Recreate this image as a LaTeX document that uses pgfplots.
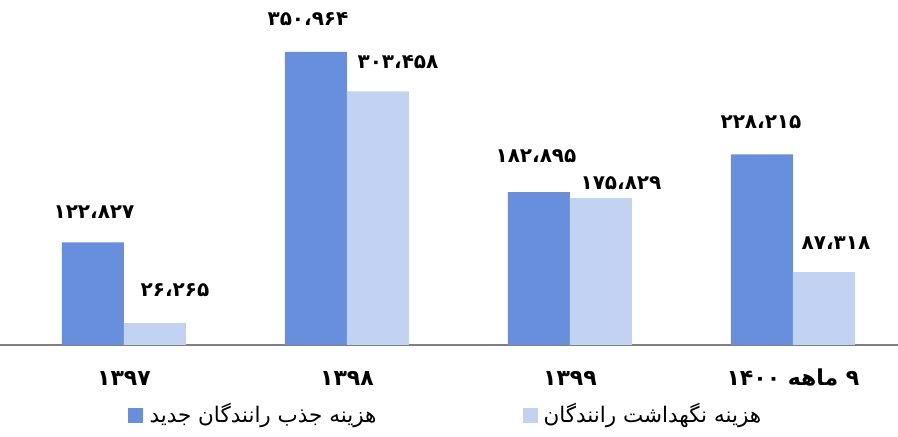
\documentclass[border=0pt]{standalone}
\usepackage{fontspec}
\usepackage{pgfplots}
\usepackage{pgfplotstable}
\pgfplotsset{compat=1.18}
\usetikzlibrary{calc}
\TeXXeTstate=1
\newfontfamily\arabicfont[Script=Arabic]{DejaVu Sans}
\definecolor{darkbar}{RGB}{104,143,222}
\definecolor{lightbar}{RGB}{194,210,243}
\definecolor{baseline}{RGB}{128,128,128}

% x = group, y = cost, dx/dy = label offset from bar top (pt), lab = label
\pgfplotstableread{
x y dx dy lab
0 122827 1 30 ۱۲۲،۸۲۷
1 350964 -8 33 ۳۵۰،۹۶۴
2 182895 -3 36 ۱۸۲،۸۹۵
3 228215 -1 32 ۲۲۸،۲۱۵
}\jazb
\pgfplotstableread{
x y dx dy lab
0 26265 20 33 ۲۶،۲۶۵
1 303458 20 29 ۳۰۳،۴۵۸
2 175829 20 15 ۱۷۵،۸۲۹
3 87318 12 29 ۸۷،۳۱۸
}\negahdasht

\begin{document}
\begin{tikzpicture}
\begin{axis}[name=ax, at={(0,0)}, anchor=south west,
  scale only axis, width=898pt, height=345pt,
  xmin=-0.556, xmax=3.471, ymin=0, ymax=413000,
  axis y line=none, axis x line=bottom,
  x axis line style={-, draw=baseline, line width=1.5pt},
  xtick={0,1,2,3}, major tick length=0pt,
  xticklabels={۱۳۹۷,۱۳۹۸,۱۳۹۹,{\beginR ۹ ماهه ۱۴۰۰\endR}},
  xticklabel style={font=\arabicfont\bfseries\fontsize{22}{26}\selectfont,
    anchor=center, yshift=-33pt},
  ybar=0pt, bar width=0.278, clip=false,
  nodes near coords, point meta=explicit symbolic,
  visualization depends on={\thisrow{dx} \as \lblx},
  visualization depends on={\thisrow{dy} \as \lbly},
  nodes near coords style={font=\arabicfont\bfseries\fontsize{20}{24}\selectfont,
    text=black, anchor=center, inner sep=0pt, xshift=\lblx pt, yshift=\lbly pt},
]
\addplot[fill=darkbar, draw=none, bar shift=-0.139] table[x=x, y=y, meta=lab] {\jazb};
\addplot[fill=lightbar, draw=none, bar shift=0.139] table[x=x, y=y, meta=lab] {\negahdasht};
\end{axis}
% legend, drawn as in the original: key square left of the text
\node[fill=darkbar, minimum size=15pt, inner sep=0pt] at (135.5pt,-70.5pt) {};
\node[anchor=west, font=\arabicfont\fontsize{21.5}{25}\selectfont] at (146pt,-71pt)
  {\beginR هزینه جذب رانندگان جدید\endR};
\node[fill=lightbar, minimum size=15pt, inner sep=0pt] at (530pt,-70.5pt) {};
\node[anchor=west, font=\arabicfont\fontsize{21.5}{25}\selectfont] at (540pt,-71pt)
  {\beginR هزینه نگهداشت رانندگان\endR};
\pgfresetboundingbox
\path ($(ax.south west)+(0,-92pt)$) rectangle (ax.north east);
\end{tikzpicture}
\end{document}
